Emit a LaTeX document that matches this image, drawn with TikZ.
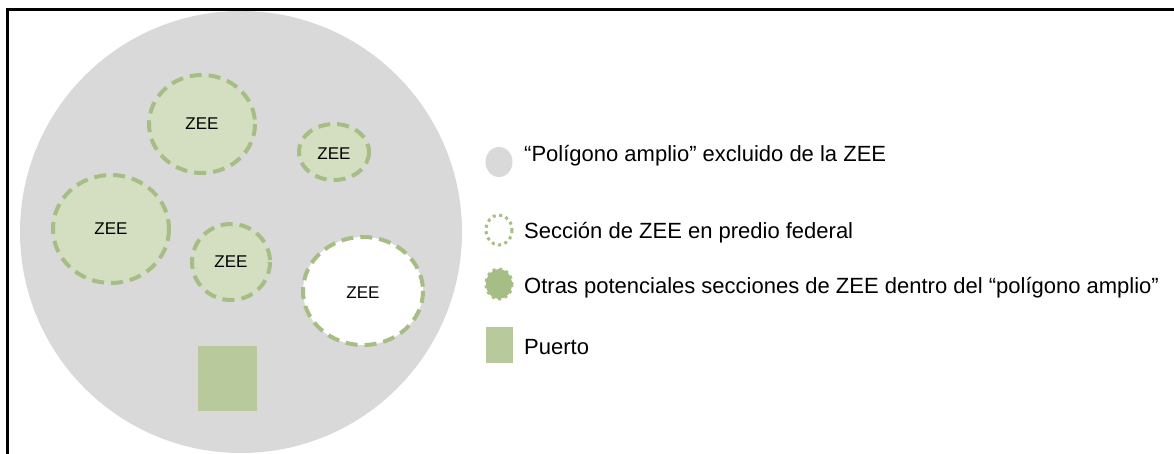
\documentclass[tikz,border=0pt]{standalone}
\usepackage{fontspec}
\setmainfont{Liberation Sans}
\definecolor{polygray}{HTML}{D9D9D9}
\definecolor{zeeline}{HTML}{A6BE85}
\definecolor{zeefill}{HTML}{D3DFC0}
\definecolor{portfill}{HTML}{B8C99B}
\begin{document}
\begin{tikzpicture}[x=1pt,y=-1pt,
  zeering/.style={draw=zeeline, line width=4pt, dash pattern=on 12pt off 7pt, fill=zeefill},
  zeewhite/.style={zeering, fill=white},
  zeelabel/.style={font=\fontsize{17}{20}\selectfont, inner sep=0pt},
  dotring/.style={draw=zeeline, line width=3pt, dash pattern=on 3pt off 3.6pt},
  legtext/.style={anchor=west, font=\fontsize{22}{26}\selectfont, inner sep=0pt},
  frameline/.style={line width=2.7pt, black}
]
\useasboundingbox (0,0) rectangle (1174,454);
\draw[frameline] (7.3,470) -- (7.3,9.3) -- (1180,9.3);
% big polygon
\fill[polygray] (241,232) ellipse [x radius=221, y radius=221];
% ZEE circles
\path[zeering] (202,124) ellipse [x radius=53, y radius=49];
\node[zeelabel] (z1) at (202,124) {ZEE};
\path[zeering] (334,152) ellipse [x radius=35, y radius=28];
\node[zeelabel] (z2) at (334,154) {ZEE};
\path[zeering] (111,229) ellipse [x radius=58, y radius=54];
\node[zeelabel] (z3) at (111,229) {ZEE};
\path[zeering] (231,262) ellipse [x radius=39, y radius=38];
\node[zeelabel] (z4) at (231,262) {ZEE};
\path[zeewhite] (363,291) ellipse [x radius=60, y radius=54];
\node[zeelabel] (z5) at (363,293) {ZEE};
% port
\fill[portfill] (198,346) rectangle (257,411);
% legend icons
\fill[polygray] (499,162) ellipse [x radius=13.5, y radius=15];
\path[dotring] (499,230) ellipse [x radius=13, y radius=15];
\path[dotring, fill=zeeline] (499,284) ellipse [x radius=13, y radius=15];
\fill[portfill] (486,327) rectangle (513,363);
% legend text
\node[legtext] (l1) at (524,156) {“Polígono amplio” excluido de la ZEE};
\node[legtext] (l2) at (524,233) {Sección de ZEE en predio federal};
\node[legtext] (l3) at (524,288) {Otras potenciales secciones de ZEE dentro del “polígono amplio”};
\node[legtext] (l4) at (524,347) {Puerto};
\end{tikzpicture}
\end{document}
